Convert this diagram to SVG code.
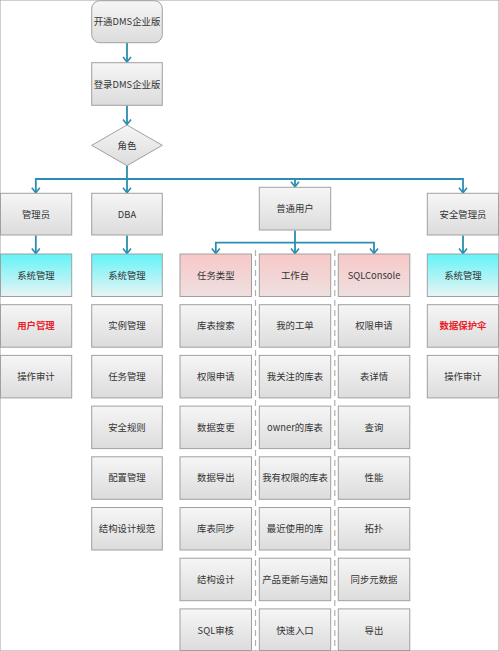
<svg xmlns="http://www.w3.org/2000/svg" width="499" height="651" viewBox="0 0 499 651">
<defs>
<linearGradient id="g" x1="0" y1="0" x2="0" y2="1"><stop offset="0" stop-color="#f6f6f6"/><stop offset="1" stop-color="#dcdcdc"/></linearGradient>
<linearGradient id="c" x1="0" y1="0" x2="0" y2="1"><stop offset="0" stop-color="#62f3f8"/><stop offset="1" stop-color="#eaf4f4"/></linearGradient>
<linearGradient id="p" x1="0" y1="0" x2="0" y2="1"><stop offset="0" stop-color="#f8c8c8"/><stop offset="1" stop-color="#eee0e0"/></linearGradient>
<marker id="a" viewBox="0 0 10 10" refX="9" refY="5" markerWidth="10" markerHeight="10" markerUnits="userSpaceOnUse" orient="auto-start-reverse">
<polyline points="4,1 9,5 4,9" fill="none" stroke="#2a8db3" stroke-width="1.6"/>
</marker>
</defs>
<style>
rect{stroke:#a0a0a0;stroke-width:1}
.g{fill:url(#g)}
.c{fill:url(#c)}
.p{fill:url(#p)}
text{font-family:"Noto Sans CJK SC","Liberation Sans",sans-serif;font-size:9.4px;fill:#333;text-anchor:middle}
.r{fill:#e8212a;font-weight:bold}
.e{fill:none;stroke:#2a8db3;stroke-width:1.8}
.d{fill:none;stroke:#b0b0b0;stroke-width:1.2;stroke-dasharray:6,4}
</style>
<rect width="499" height="651" fill="#fff" stroke="none"/>
<g id="connectors">
<line class="e" x1="127" y1="43" x2="127" y2="62" marker-end="url(#a)"/>
<line class="e" x1="127" y1="105.5" x2="127" y2="124.5" marker-end="url(#a)"/>
<line class="e" x1="127" y1="166" x2="127" y2="179"/>
<line class="e" x1="35.8" y1="179" x2="463" y2="179"/>
<line class="e" x1="35.8" y1="178.1" x2="35.8" y2="192.8" marker-end="url(#a)"/>
<line class="e" x1="127" y1="179" x2="127" y2="192.8" marker-end="url(#a)"/>
<line class="e" x1="295" y1="179" x2="295" y2="186.8" marker-end="url(#a)"/>
<line class="e" x1="463" y1="178.1" x2="463" y2="192.8" marker-end="url(#a)"/>
<line class="e" x1="35.8" y1="235.5" x2="35.8" y2="253.5" marker-end="url(#a)"/>
<line class="e" x1="127" y1="235.5" x2="127" y2="253.5" marker-end="url(#a)"/>
<line class="e" x1="463" y1="235.5" x2="463" y2="253.5" marker-end="url(#a)"/>
<line class="e" x1="295" y1="230.5" x2="295" y2="253.5" marker-end="url(#a)"/>
<polyline class="e" points="215.8,253.5 215.8,242.7 374,242.7 374,253.5" marker-start="url(#a)" marker-end="url(#a)"/>
<line class="d" x1="255.5" y1="250" x2="255.5" y2="651"/>
<line class="d" x1="334.8" y1="250" x2="334.8" y2="651"/>
</g>
<g id="n-open"><rect class="g" x="91.7" y="0.7" width="70.6" height="42" rx="8"/><text x="127" y="25">开通DMS企业版</text></g>
<g id="n-login"><rect class="g" x="91.7" y="62.7" width="70.6" height="42.6"/><text x="127" y="87.5">登录DMS企业版</text></g>
<g id="n-role"><polygon points="127,125 162.3,145.3 127,165.7 91.7,145.3" fill="url(#g)" stroke="#a0a0a0"/><text x="127" y="149">角色</text></g>
<g id="n-admin"><rect class="g" x="0.5" y="193.3" width="71.2" height="41.7"/><text x="36" y="217.5">管理员</text></g>
<g id="n-dba"><rect class="g" x="91.7" y="193.3" width="70.6" height="41.7"/><text x="127" y="217.5">DBA</text></g>
<g id="n-user"><rect class="g" x="259.3" y="187.3" width="71.4" height="42.7"/><text x="295" y="212">普通用户</text></g>
<g id="n-sec"><rect class="g" x="427.3" y="193.3" width="71.2" height="41.7"/><text x="463" y="217.5">安全管理员</text></g>

<g id="n-admin-sys"><rect class="c" x="0.5" y="254" width="71.2" height="42.5"/><text x="36" y="278.6">系统管理</text></g>
<g id="n-admin-user"><rect class="g" x="0.5" y="304.7" width="71.2" height="42.5"/><text class="r" x="36" y="329.3">用户管理</text></g>
<g id="n-admin-audit"><rect class="g" x="0.5" y="355.4" width="71.2" height="42.5"/><text x="36" y="380">操作审计</text></g>

<g id="n-dba-sys"><rect class="c" x="91.7" y="254" width="70.6" height="42.5"/><text x="127" y="278.6">系统管理</text></g>
<g id="n-dba-1"><rect class="g" x="91.7" y="304.7" width="70.6" height="42.5"/><text x="127" y="329.3">实例管理</text></g>
<g id="n-dba-2"><rect class="g" x="91.7" y="355.4" width="70.6" height="42.5"/><text x="127" y="380">任务管理</text></g>
<g id="n-dba-3"><rect class="g" x="91.7" y="406.1" width="70.6" height="42.5"/><text x="127" y="430.7">安全规则</text></g>
<g id="n-dba-4"><rect class="g" x="91.7" y="456.8" width="70.6" height="42.5"/><text x="127" y="481.4">配置管理</text></g>
<g id="n-dba-5"><rect class="g" x="91.7" y="507.5" width="70.6" height="42.5"/><text x="127" y="532.1">结构设计规范</text></g>

<g id="n-task"><rect class="p" x="180" y="254" width="71.5" height="42.5"/><text x="215.8" y="278.6">任务类型</text></g>
<g id="n-task-1"><rect class="g" x="180" y="304.7" width="71.5" height="42.5"/><text x="215.8" y="329.3">库表搜索</text></g>
<g id="n-task-2"><rect class="g" x="180" y="355.4" width="71.5" height="42.5"/><text x="215.8" y="380">权限申请</text></g>
<g id="n-task-3"><rect class="g" x="180" y="406.1" width="71.5" height="42.5"/><text x="215.8" y="430.7">数据变更</text></g>
<g id="n-task-4"><rect class="g" x="180" y="456.8" width="71.5" height="42.5"/><text x="215.8" y="481.4">数据导出</text></g>
<g id="n-task-5"><rect class="g" x="180" y="507.5" width="71.5" height="42.5"/><text x="215.8" y="532.1">库表同步</text></g>
<g id="n-task-6"><rect class="g" x="180" y="558.2" width="71.5" height="42.5"/><text x="215.8" y="582.8">结构设计</text></g>
<g id="n-task-7"><rect class="g" x="180" y="608.9" width="71.5" height="41.6"/><text x="215.8" y="633.5">SQL审核</text></g>

<g id="n-work"><rect class="p" x="259.3" y="254" width="71.4" height="42.5"/><text x="295" y="278.6">工作台</text></g>
<g id="n-work-1"><rect class="g" x="259.3" y="304.7" width="71.4" height="42.5"/><text x="295" y="329.3">我的工单</text></g>
<g id="n-work-2"><rect class="g" x="259.3" y="355.4" width="71.4" height="42.5"/><text x="295" y="380">我关注的库表</text></g>
<g id="n-work-3"><rect class="g" x="259.3" y="406.1" width="71.4" height="42.5"/><text x="295" y="430.7">owner的库表</text></g>
<g id="n-work-4"><rect class="g" x="259.3" y="456.8" width="71.4" height="42.5"/><text x="295" y="481.4">我有权限的库表</text></g>
<g id="n-work-5"><rect class="g" x="259.3" y="507.5" width="71.4" height="42.5"/><text x="295" y="532.1">最近使用的库</text></g>
<g id="n-work-6"><rect class="g" x="259.3" y="558.2" width="71.4" height="42.5"/><text x="295" y="582.8">产品更新与通知</text></g>
<g id="n-work-7"><rect class="g" x="259.3" y="608.9" width="71.4" height="41.6"/><text x="295" y="633.5">快速入口</text></g>

<g id="n-sql"><rect class="p" x="338.3" y="254" width="71.5" height="42.5"/><text x="374" y="278.6">SQLConsole</text></g>
<g id="n-sql-1"><rect class="g" x="338.3" y="304.7" width="71.5" height="42.5"/><text x="374" y="329.3">权限申请</text></g>
<g id="n-sql-2"><rect class="g" x="338.3" y="355.4" width="71.5" height="42.5"/><text x="374" y="380">表详情</text></g>
<g id="n-sql-3"><rect class="g" x="338.3" y="406.1" width="71.5" height="42.5"/><text x="374" y="430.7">查询</text></g>
<g id="n-sql-4"><rect class="g" x="338.3" y="456.8" width="71.5" height="42.5"/><text x="374" y="481.4">性能</text></g>
<g id="n-sql-5"><rect class="g" x="338.3" y="507.5" width="71.5" height="42.5"/><text x="374" y="532.1">拓扑</text></g>
<g id="n-sql-6"><rect class="g" x="338.3" y="558.2" width="71.5" height="42.5"/><text x="374" y="582.8">同步元数据</text></g>
<g id="n-sql-7"><rect class="g" x="338.3" y="608.9" width="71.5" height="41.6"/><text x="374" y="633.5">导出</text></g>

<g id="n-sec-sys"><rect class="c" x="427.3" y="254" width="71.2" height="42.5"/><text x="463" y="278.6">系统管理</text></g>
<g id="n-sec-1"><rect class="g" x="427.3" y="304.7" width="71.2" height="42.5"/><text class="r" x="463" y="329.3">数据保护伞</text></g>
<g id="n-sec-2"><rect class="g" x="427.3" y="355.4" width="71.2" height="42.5"/><text x="463" y="380">操作审计</text></g>
</svg>
